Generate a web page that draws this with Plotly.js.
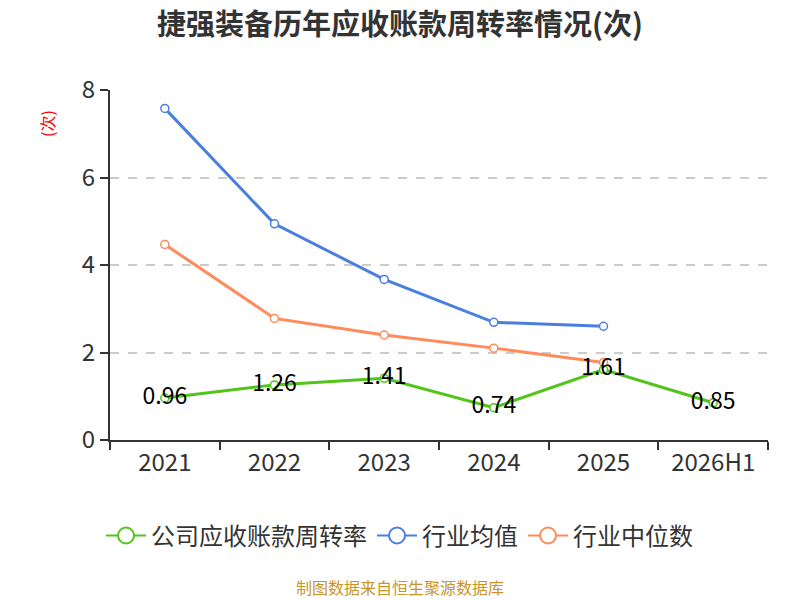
<!DOCTYPE html>
<html>
<head>
<meta charset="utf-8">
<script src="https://cdn.plot.ly/plotly-3.0.1.min.js"></script>
<style>body{margin:0;} #chart{width:800px;height:600px;}</style>
</head>
<body>
<div id="chart"></div>
<script>
var years = ['2021', '2022', '2023', '2024', '2025', '2026H1'];
var company = [0.96, 1.26, 1.41, 0.74, 1.61, 0.85];
var industryAvg = [7.58, 4.94, 3.67, 2.69, 2.60];
var industryMedian = [4.47, 2.78, 2.40, 2.10, 1.77];

var names = ['公司应收账款周转率', '行业均值', '行业中位数'];
var colors = ['#52c41a', '#4a7fe0', '#ff8a5b'];

var font = '"Noto Sans CJK SC", "Noto Sans", sans-serif';

function series(name, y, color, withText) {
    var t = {
        type: 'scatter',
        mode: withText ? 'lines+markers+text' : 'lines+markers',
        name: name,
        showlegend: false,
        x: years.slice(0, y.length),
        y: y,
        line: {color: color, width: 3},
        marker: {symbol: 'circle', size: 8, color: '#ffffff', line: {color: color, width: 1.5}},
        cliponaxis: false
    };
    if (withText) {
        t.text = y.map(function (v) { return v.toFixed(2); });
        t.textposition = 'middle center';
        t.textfont = {size: 23, color: '#000000', family: font};
    }
    return t;
}

// legend-only entries with bigger symbols, like the original
function legendItem(name, color) {
    return {
        type: 'scatter', mode: 'lines+markers', name: name,
        x: [null], y: [null],
        line: {color: color, width: 2},
        marker: {symbol: 'circle', size: 16, color: '#ffffff', line: {color: color, width: 2}},
        hoverinfo: 'skip'
    };
}

var traces = [
    series(names[1], industryAvg, colors[1], false),
    series(names[2], industryMedian, colors[2], false),
    series(names[0], company, colors[0], true)
];
for (var i = 0; i < names.length; i++) {
    traces.push(legendItem(names[i], colors[i]));
}

var layout = {
    width: 800,
    height: 600,
    margin: {l: 110, r: 32, t: 90, b: 160},
    paper_bgcolor: '#ffffff',
    plot_bgcolor: '#ffffff',
    font: {family: font, color: '#333333'},
    title: {
        text: '<b>捷强装备历年应收账款周转率情况(次)</b>',
        font: {size: 29, color: '#333333', family: font},
        x: 0.5, xanchor: 'center', y: 0.958, yanchor: 'middle'
    },
    xaxis: {
        type: 'category',
        tickson: 'boundaries',
        ticks: 'outside', ticklen: 8, tickcolor: '#333333', tickwidth: 2,
        showline: true, linecolor: '#333333', linewidth: 2,
        showgrid: false,
        tickfont: {size: 24, color: '#333333'},
        range: [-0.5, 5.5]
    },
    yaxis: {
        range: [0, 8],
        dtick: 2,
        ticks: 'outside', ticklen: 8, tickcolor: '#333333', tickwidth: 2,
        showline: true, linecolor: '#333333', linewidth: 2,
        showgrid: true, gridcolor: '#cccccc', griddash: 'dash', gridwidth: 1.5,
        zeroline: false,
        tickfont: {size: 24, color: '#333333'}
    },
    showlegend: true,
    legend: {
        orientation: 'h',
        x: 0.44, xanchor: 'center',
        y: -0.274, yanchor: 'middle',
        font: {size: 24, color: '#333333'},
        itemwidth: 40,
        traceorder: 'normal'
    },
    annotations: [{
        text: '(次)',
        xref: 'paper', yref: 'paper',
        x: -0.0957, y: 0.903, xanchor: 'center', yanchor: 'middle',
        textangle: -90, showarrow: false,
        font: {size: 16, color: '#ff0000'}
    }, {
        text: '制图数据来自恒生聚源数据库',
        xref: 'paper', yref: 'paper',
        x: 0.44, xanchor: 'center',
        y: -0.42, yanchor: 'middle',
        showarrow: false,
        font: {size: 16, color: '#c8952a'}
    }]
};

Plotly.newPlot('chart', traces, layout, {displayModeBar: false});
</script>
</body>
</html>
